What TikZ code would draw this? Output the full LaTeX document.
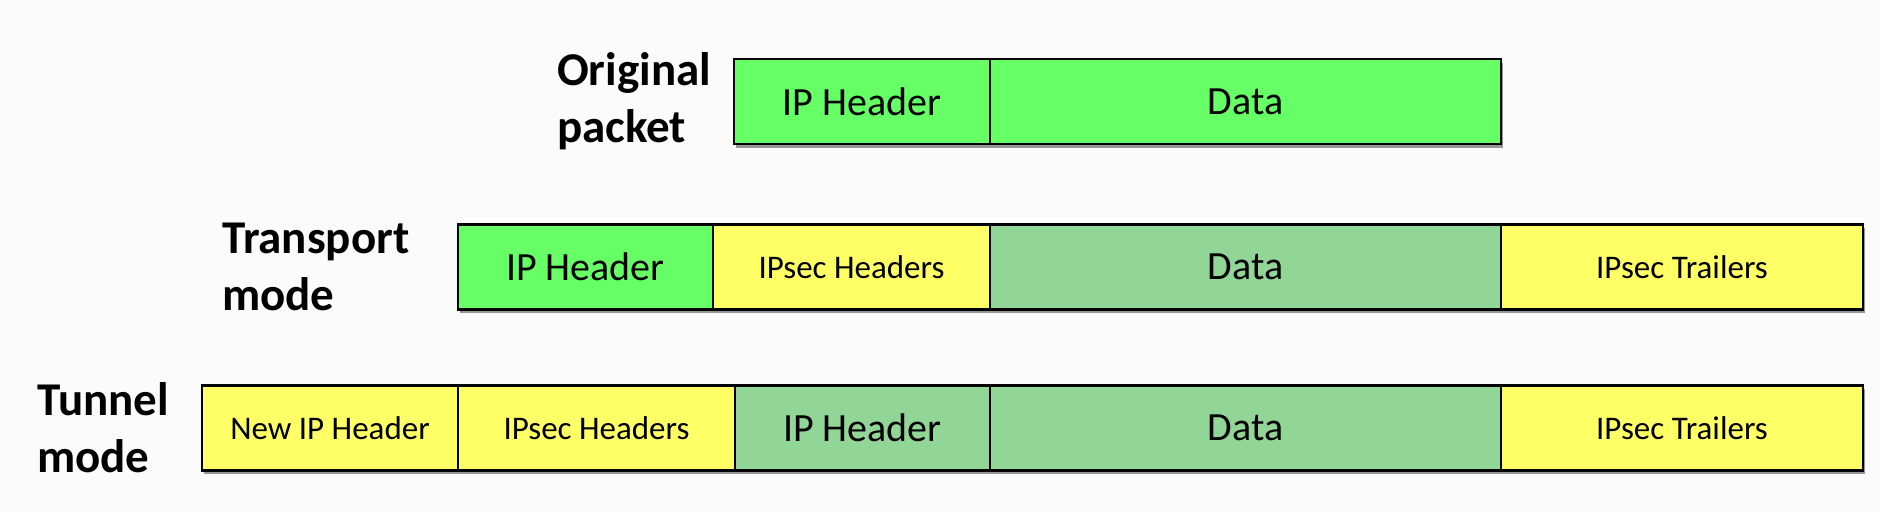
\documentclass[tikz,border=0pt]{standalone}
\usepackage{fontspec}
\setmainfont{Carlito}
\usetikzlibrary{positioning,shadows}

\definecolor{ipgreen}{RGB}{102,255,102}
\definecolor{ipyellow}{RGB}{255,255,102}
\definecolor{ipcipher}{RGB}{145,214,150}
\definecolor{paper}{RGB}{250,251,250}

\tikzset{
  field/.style={draw=black, line width=2.2pt, inner sep=0pt, outer sep=0pt,
    minimum height=85pt, minimum width=#1, anchor=west,
    drop shadow={shadow xshift=1.5pt, shadow yshift=-3.5pt, fill=black, opacity=0.4}},
  big/.style={font=\fontsize{40}{46}\selectfont},
  small/.style={font=\fontsize{33}{38}\selectfont},
  mode/.style={font=\bfseries\fontsize{47}{57}\selectfont, align=left, anchor=west, inner sep=0pt}
}

\begin{document}
\begin{tikzpicture}[x=1pt, y=-1pt]

\fill[paper] (0,0) rectangle (1880,512);
\useasboundingbox (0,0) rectangle (1880,512);

% original packet
\node [field=256pt, fill=ipgreen, big] (orighdr) at (734,101.5) {IP Header};
\node [field=511pt, fill=ipgreen, big, right=0pt of orighdr] (origdata) {Data};
\node [mode] (origlabel) at (557,101) {Original\\packet};

% transport mode
\node [field=255pt, fill=ipgreen, big] (transhdr) at (458,267) {IP Header};
\node [field=277pt, fill=ipyellow, small, right=0pt of transhdr] (transsec) {IPsec Headers};
\node [field=511pt, fill=ipcipher, big, right=0pt of transsec] (transdata) {Data};
\node [field=362pt, fill=ipyellow, small, right=0pt of transdata] (transtrl) {IPsec Trailers};
\node [mode] (translabel) at (222,267) {Transport\\mode};

% tunnel mode
\node [field=256pt, fill=ipyellow, small] (tunnew) at (202,428) {New IP Header};
\node [field=277pt, fill=ipyellow, small, right=0pt of tunnew] (tunsec) {IPsec Headers};
\node [field=255pt, fill=ipcipher, big, right=0pt of tunsec] (tunhdr) {IP Header};
\node [field=511pt, fill=ipcipher, big, right=0pt of tunhdr] (tundata) {Data};
\node [field=362pt, fill=ipyellow, small, right=0pt of tundata] (tuntrl) {IPsec Trailers};
\node [mode] (tunlabel) at (37,428) {Tunnel\\mode};

\end{tikzpicture}
\end{document}
